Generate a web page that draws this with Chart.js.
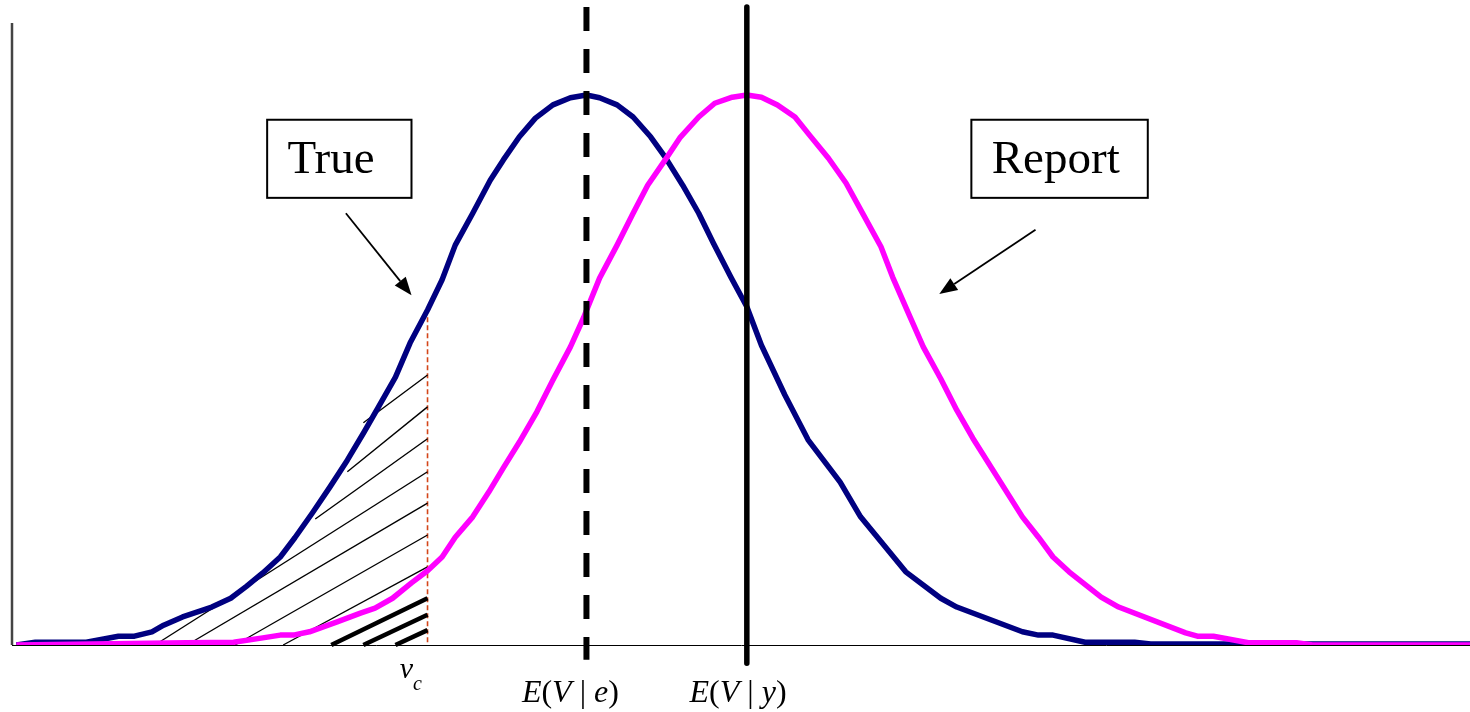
<!DOCTYPE html>
<html lang="en">
<head>
  <meta charset="UTF-8">
  <title>True vs Report distributions</title>
  <script src="https://cdn.jsdelivr.net/npm/chart.js"></script>
  <style>
    body { margin: 0; background: #fff; }
    #wrap { width: 1470px; height: 712px; position: relative; }
  </style>
</head>
<body>
  <div id="wrap"><canvas id="distChart"></canvas></div>

  <script>
    // "True" density (navy)
    const navyX = [0.3, 1.6, 5.1, 7.3, 8.4, 9.6, 10.4, 11.7, 13.7, 15.0, 16.1, 17.2, 18.4, 19.4, 20.6,
      21.8, 23.0, 24.1, 25.1, 26.3, 27.3, 28.5, 29.5, 30.4, 31.6, 32.8, 33.7, 34.8, 35.9, 37.1,
      38.3, 39.4, 40.3, 41.5, 42.6, 43.8, 44.8, 46.0, 47.1, 48.1, 49.3, 50.4, 51.4, 53.0, 54.6,
      56.8, 58.2, 61.3, 63.7, 64.8, 69.3, 70.4, 71.4, 73.6, 77.0, 78.1, 100];
    const navyY = [0, 0.005, 0.005, 0.016, 0.016, 0.024, 0.036, 0.051, 0.069, 0.085, 0.107, 0.131, 0.160, 0.195, 0.240,
      0.287, 0.336, 0.385, 0.431, 0.487, 0.549, 0.609, 0.664, 0.727, 0.785, 0.845, 0.882, 0.924, 0.958, 0.982,
      0.995, 1.000, 0.995, 0.982, 0.960, 0.924, 0.887, 0.836, 0.785, 0.731, 0.669, 0.615, 0.545, 0.455, 0.373,
      0.296, 0.233, 0.133, 0.085, 0.069, 0.024, 0.018, 0.018, 0.005, 0.005, 0.002, 0.002];

    // "Report" density (magenta)
    const pinkX = [0.3, 12.0, 15.2, 17.2, 18.4, 19.3, 20.4, 22.3, 23.9, 24.9, 26.1, 27.4, 28.5, 29.5, 30.4,
      31.6, 32.7, 33.7, 34.8, 36.0, 37.1, 38.3, 39.2, 40.3, 41.5, 42.6, 43.6, 44.8, 45.8, 47.1,
      48.2, 49.4, 50.4, 51.4, 52.5, 53.7, 54.7, 56.0, 57.2, 58.4, 59.6, 60.4, 61.6, 62.5, 63.7,
      64.8, 65.9, 69.3, 70.4, 71.4, 72.5, 74.7, 75.9, 80.5, 81.3, 82.4, 84.8, 88.1, 89.2, 100];
    const pinkY = [0, 0.004, 0.005, 0.013, 0.018, 0.018, 0.024, 0.042, 0.058, 0.067, 0.085, 0.113, 0.135, 0.160, 0.196,
      0.233, 0.278, 0.322, 0.369, 0.424, 0.482, 0.542, 0.595, 0.667, 0.727, 0.785, 0.836, 0.882, 0.922, 0.960,
      0.985, 0.996, 1.000, 0.996, 0.982, 0.960, 0.927, 0.885, 0.840, 0.782, 0.724, 0.669, 0.596, 0.542, 0.484,
      0.427, 0.376, 0.233, 0.196, 0.160, 0.133, 0.087, 0.069, 0.022, 0.016, 0.016, 0.004, 0.004, 0, 0];

    // reference values on the x axis
    const vc = 28.5;
    const meanE = 39.4;   // E(V | e)
    const meanY = 50.4;   // E(V | y)

    // hatching under the True curve left of vc: [x start, y start, y at vc]
    const hatchThin = [[24.1, 0.404, 0.491], [23.0, 0.315, 0.433], [20.8, 0.229, 0.375],
      [9.8, 0, 0.315], [12.0, 0, 0.258], [15.3, 0, 0.200], [18.6, 0, 0.142]];
    const hatchThick = [[21.9, 0, 0.085], [24.1, 0, 0.055], [26.3, 0, 0.027]];

    const Y_MAX = 1.16;

    function pts(xs, ys) { return xs.map((x, i) => ({ x: x, y: ys[i] })); }

    const datasets = [];
    datasets.push({ data: [{ x: meanY, y: Y_MAX }, { x: meanY, y: -0.033 }], borderColor: '#000', borderWidth: 5.5, clip: false });
    datasets.push({ data: [{ x: meanE, y: Y_MAX }, { x: meanE, y: -0.027 }], borderColor: '#000', borderWidth: 6,
      borderDash: [24, 18], clip: false });
    datasets.push({ data: pts(pinkX, pinkY), borderColor: '#ff00ff', borderWidth: 5.5 });
    datasets.push({ data: pts(navyX, navyY), borderColor: '#000080', borderWidth: 5.5 });
    hatchThin.forEach(h => datasets.push({ data: [{ x: h[0], y: h[1] }, { x: vc, y: h[2] }],
      borderColor: '#000', borderWidth: 1.4, clip: false }));
    hatchThick.forEach(h => datasets.push({ data: [{ x: h[0], y: h[1] }, { x: vc, y: h[2] }],
      borderColor: '#000', borderWidth: 4.5, clip: false }));
    datasets.push({ data: [{ x: vc, y: 0.596 }, { x: vc, y: 0 }], borderColor: '#d4461a', borderWidth: 1.6, borderDash: [5, 3] });
    // left axis line (shorter than the plot height)
    datasets.push({ data: [{ x: 0, y: 0 }, { x: 0, y: 1.131 }], borderColor: '#444', borderWidth: 2.5, clip: false });

    const SERIF = '"Liberation Serif", "Times New Roman", serif';

    function drawRich(ctx, parts, cx, by) {
      let total = 0;
      parts.forEach(p => { ctx.font = p[1]; total += ctx.measureText(p[0]).width; });
      let x = cx - total / 2;
      parts.forEach(p => { ctx.font = p[1]; ctx.fillText(p[0], x, by); x += ctx.measureText(p[0]).width; });
    }

    function arrow(ctx, x1, y1, x2, y2) {
      const a = Math.atan2(y2 - y1, x2 - x1);
      const len = 18, hw = 7;
      const bx = x2 - len * Math.cos(a), by = y2 - len * Math.sin(a);
      ctx.beginPath();
      ctx.moveTo(x1, y1);
      ctx.lineTo(bx, by);
      ctx.lineWidth = 1.8;
      ctx.stroke();
      ctx.beginPath();
      ctx.moveTo(x2, y2);
      ctx.lineTo(bx + hw * Math.sin(a), by - hw * Math.cos(a));
      ctx.lineTo(bx - hw * Math.sin(a), by + hw * Math.cos(a));
      ctx.closePath();
      ctx.fill();
    }

    const notesPlugin = {
      id: 'notes',
      afterDraw(chart) {
        const ctx = chart.ctx;
        const sx = v => chart.scales.x.getPixelForValue(v);
        const sy = v => chart.scales.y.getPixelForValue(v);
        ctx.save();
        ctx.fillStyle = '#000';
        ctx.strokeStyle = '#000';

        // label boxes
        [['True', 17.5, 27.4, 18.9], ['Report', 65.8, 77.9, 67.2]].forEach(b => {
          const x1 = sx(b[1]), x2 = sx(b[2]), y1 = sy(0.955), y2 = sy(0.813);
          ctx.lineWidth = 2;
          ctx.strokeRect(x1, y1, x2 - x1, y2 - y1);
          ctx.font = '47px ' + SERIF;
          ctx.textAlign = 'left';
          ctx.textBaseline = 'alphabetic';
          ctx.fillText(b[0], sx(b[3]), sy(0.858));
        });

        arrow(ctx, sx(22.9), sy(0.785), sx(27.4), sy(0.636));
        arrow(ctx, sx(70.2), sy(0.755), sx(63.6), sy(0.638));

        // axis labels
        const it = 'italic 32px ' + SERIF, up = '32px ' + SERIF;
        ctx.textAlign = 'left';
        ctx.font = 'italic 30px ' + SERIF;
        ctx.fillText('v', sx(26.6), sy(-0.06));
        ctx.font = 'italic 20px ' + SERIF;
        ctx.fillText('c', sx(27.5), sy(-0.082));
        drawRich(ctx, [['E', it], ['(', up], ['V', it], [' | ', up], ['e', it], [')', up]], sx(38.3), sy(-0.104));
        drawRich(ctx, [['E', it], ['(', up], ['V', it], [' | ', up], ['y', it], [')', up]], sx(49.8), sy(-0.104));
        ctx.restore();
      }
    };

    new Chart(document.getElementById('distChart'), {
      type: 'line',
      data: { datasets: datasets },
      options: {
        responsive: true,
        maintainAspectRatio: false,
        animation: false,
        events: [],
        layout: { padding: { left: 12, right: 0, top: 7, bottom: 67 } },
        elements: { point: { radius: 0 }, line: { tension: 0, fill: false, borderCapStyle: 'butt', borderJoinStyle: 'round' } },
        plugins: { legend: { display: false }, tooltip: { enabled: false } },
        scales: {
          x: {
            type: 'linear', min: 0, max: 100,
            ticks: { display: false },
            grid: { display: false, drawTicks: false },
            border: { display: true, color: '#000', width: 1 }
          },
          y: {
            min: 0, max: Y_MAX,
            display: false
          }
        }
      },
      plugins: [notesPlugin]
    });
  </script>
</body>
</html>
